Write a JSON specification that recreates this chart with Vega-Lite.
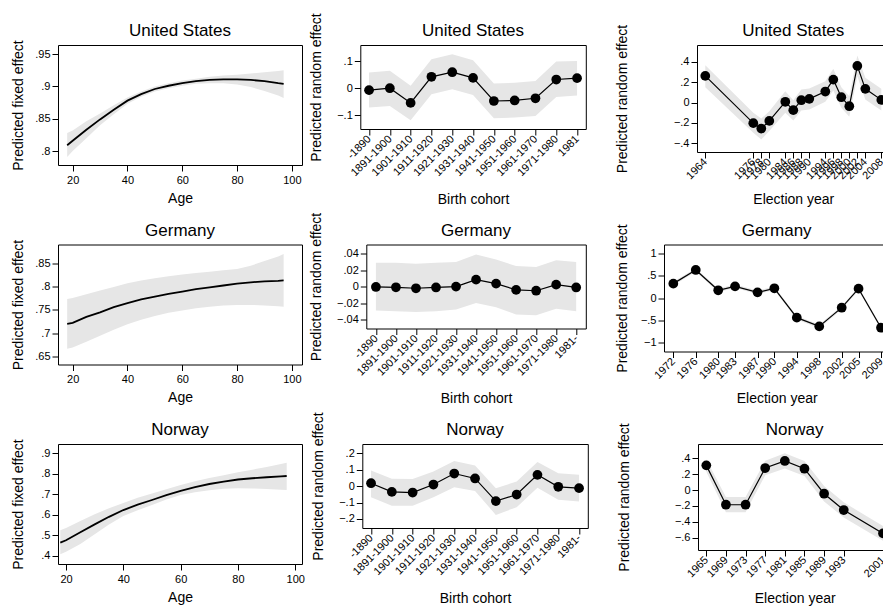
{
  "$schema": "https://vega.github.io/schema/vega-lite/v6.json",
  "padding": {"left": 11, "top": 12, "right": 0, "bottom": 0},
  "autosize": {"type": "pad"},
  "datasets": {
    "fixed": [
      {"c": "United States", "age": 18, "fit": 0.809, "lo": 0.791, "hi": 0.828},
      {"c": "United States", "age": 20, "fit": 0.816, "lo": 0.800, "hi": 0.832},
      {"c": "United States", "age": 25, "fit": 0.833, "lo": 0.820, "hi": 0.846},
      {"c": "United States", "age": 30, "fit": 0.849, "lo": 0.840, "hi": 0.858},
      {"c": "United States", "age": 35, "fit": 0.864, "lo": 0.857, "hi": 0.871},
      {"c": "United States", "age": 40, "fit": 0.878, "lo": 0.873, "hi": 0.883},
      {"c": "United States", "age": 45, "fit": 0.888, "lo": 0.884, "hi": 0.892},
      {"c": "United States", "age": 50, "fit": 0.896, "lo": 0.892, "hi": 0.900},
      {"c": "United States", "age": 55, "fit": 0.901, "lo": 0.897, "hi": 0.905},
      {"c": "United States", "age": 60, "fit": 0.905, "lo": 0.901, "hi": 0.909},
      {"c": "United States", "age": 65, "fit": 0.908, "lo": 0.904, "hi": 0.912},
      {"c": "United States", "age": 70, "fit": 0.910, "lo": 0.905, "hi": 0.915},
      {"c": "United States", "age": 75, "fit": 0.911, "lo": 0.905, "hi": 0.917},
      {"c": "United States", "age": 80, "fit": 0.911, "lo": 0.903, "hi": 0.918},
      {"c": "United States", "age": 85, "fit": 0.910, "lo": 0.899, "hi": 0.920},
      {"c": "United States", "age": 90, "fit": 0.908, "lo": 0.893, "hi": 0.922},
      {"c": "United States", "age": 95, "fit": 0.905, "lo": 0.886, "hi": 0.924},
      {"c": "United States", "age": 97, "fit": 0.904, "lo": 0.882, "hi": 0.925},
      {"c": "Germany", "age": 18, "fit": 0.720, "lo": 0.666, "hi": 0.774},
      {"c": "Germany", "age": 20, "fit": 0.722, "lo": 0.669, "hi": 0.776},
      {"c": "Germany", "age": 25, "fit": 0.735, "lo": 0.681, "hi": 0.784},
      {"c": "Germany", "age": 30, "fit": 0.745, "lo": 0.694, "hi": 0.792},
      {"c": "Germany", "age": 35, "fit": 0.756, "lo": 0.707, "hi": 0.800},
      {"c": "Germany", "age": 40, "fit": 0.765, "lo": 0.719, "hi": 0.808},
      {"c": "Germany", "age": 45, "fit": 0.773, "lo": 0.729, "hi": 0.814},
      {"c": "Germany", "age": 50, "fit": 0.779, "lo": 0.737, "hi": 0.819},
      {"c": "Germany", "age": 55, "fit": 0.785, "lo": 0.744, "hi": 0.823},
      {"c": "Germany", "age": 60, "fit": 0.790, "lo": 0.749, "hi": 0.827},
      {"c": "Germany", "age": 65, "fit": 0.795, "lo": 0.754, "hi": 0.830},
      {"c": "Germany", "age": 70, "fit": 0.799, "lo": 0.757, "hi": 0.833},
      {"c": "Germany", "age": 75, "fit": 0.803, "lo": 0.760, "hi": 0.836},
      {"c": "Germany", "age": 80, "fit": 0.807, "lo": 0.761, "hi": 0.839},
      {"c": "Germany", "age": 85, "fit": 0.810, "lo": 0.761, "hi": 0.846},
      {"c": "Germany", "age": 90, "fit": 0.812, "lo": 0.760, "hi": 0.856},
      {"c": "Germany", "age": 95, "fit": 0.813, "lo": 0.758, "hi": 0.866},
      {"c": "Germany", "age": 97, "fit": 0.814, "lo": 0.757, "hi": 0.871},
      {"c": "Norway", "age": 18, "fit": 0.464, "lo": 0.408, "hi": 0.525},
      {"c": "Norway", "age": 20, "fit": 0.476, "lo": 0.420, "hi": 0.535},
      {"c": "Norway", "age": 25, "fit": 0.515, "lo": 0.458, "hi": 0.570},
      {"c": "Norway", "age": 30, "fit": 0.553, "lo": 0.505, "hi": 0.602},
      {"c": "Norway", "age": 35, "fit": 0.590, "lo": 0.552, "hi": 0.632},
      {"c": "Norway", "age": 40, "fit": 0.623, "lo": 0.594, "hi": 0.657},
      {"c": "Norway", "age": 45, "fit": 0.649, "lo": 0.622, "hi": 0.683},
      {"c": "Norway", "age": 50, "fit": 0.672, "lo": 0.648, "hi": 0.704},
      {"c": "Norway", "age": 55, "fit": 0.696, "lo": 0.675, "hi": 0.725},
      {"c": "Norway", "age": 60, "fit": 0.717, "lo": 0.696, "hi": 0.745},
      {"c": "Norway", "age": 65, "fit": 0.735, "lo": 0.710, "hi": 0.763},
      {"c": "Norway", "age": 70, "fit": 0.750, "lo": 0.720, "hi": 0.779},
      {"c": "Norway", "age": 75, "fit": 0.762, "lo": 0.727, "hi": 0.793},
      {"c": "Norway", "age": 80, "fit": 0.772, "lo": 0.729, "hi": 0.807},
      {"c": "Norway", "age": 85, "fit": 0.778, "lo": 0.728, "hi": 0.820},
      {"c": "Norway", "age": 90, "fit": 0.783, "lo": 0.726, "hi": 0.833},
      {"c": "Norway", "age": 95, "fit": 0.787, "lo": 0.722, "hi": 0.847},
      {"c": "Norway", "age": 97, "fit": 0.789, "lo": 0.721, "hi": 0.853}
    ],
    "cohort": [
      {"c": "United States", "cohort": "-1890", "est": -0.007, "lo": -0.071, "hi": 0.058},
      {"c": "United States", "cohort": "1891-1900", "est": 0.000, "lo": -0.065, "hi": 0.064},
      {"c": "United States", "cohort": "1901-1910", "est": -0.054, "lo": -0.118, "hi": 0.009},
      {"c": "United States", "cohort": "1911-1920", "est": 0.042, "lo": -0.022, "hi": 0.107},
      {"c": "United States", "cohort": "1921-1930", "est": 0.059, "lo": -0.004, "hi": 0.125},
      {"c": "United States", "cohort": "1931-1940", "est": 0.038, "lo": -0.025, "hi": 0.103},
      {"c": "United States", "cohort": "1941-1950", "est": -0.047, "lo": -0.110, "hi": 0.017},
      {"c": "United States", "cohort": "1951-1960", "est": -0.045, "lo": -0.108, "hi": 0.020},
      {"c": "United States", "cohort": "1961-1970", "est": -0.037, "lo": -0.102, "hi": 0.027},
      {"c": "United States", "cohort": "1971-1980", "est": 0.032, "lo": -0.032, "hi": 0.098},
      {"c": "United States", "cohort": "1981", "est": 0.037, "lo": -0.027, "hi": 0.100},
      {"c": "Germany", "cohort": "-1890", "est": -0.0004, "lo": -0.029, "hi": 0.029},
      {"c": "Germany", "cohort": "1891-1900", "est": -0.0008, "lo": -0.030, "hi": 0.029},
      {"c": "Germany", "cohort": "1901-1910", "est": -0.002, "lo": -0.031, "hi": 0.028},
      {"c": "Germany", "cohort": "1911-1920", "est": -0.001, "lo": -0.030, "hi": 0.029},
      {"c": "Germany", "cohort": "1921-1930", "est": 0.000, "lo": -0.028, "hi": 0.030},
      {"c": "Germany", "cohort": "1931-1940", "est": 0.0085, "lo": -0.020, "hi": 0.039},
      {"c": "Germany", "cohort": "1941-1950", "est": 0.0037, "lo": -0.025, "hi": 0.033},
      {"c": "Germany", "cohort": "1951-1960", "est": -0.004, "lo": -0.034, "hi": 0.025},
      {"c": "Germany", "cohort": "1961-1970", "est": -0.005, "lo": -0.035, "hi": 0.024},
      {"c": "Germany", "cohort": "1971-1980", "est": 0.0024, "lo": -0.027, "hi": 0.032},
      {"c": "Germany", "cohort": "1981-", "est": -0.001, "lo": -0.030, "hi": 0.030},
      {"c": "Norway", "cohort": "-1890", "est": 0.018, "lo": -0.067, "hi": 0.095},
      {"c": "Norway", "cohort": "1891-1900", "est": -0.035, "lo": -0.120, "hi": 0.045},
      {"c": "Norway", "cohort": "1901-1910", "est": -0.039, "lo": -0.120, "hi": 0.043},
      {"c": "Norway", "cohort": "1911-1920", "est": 0.010, "lo": -0.067, "hi": 0.089},
      {"c": "Norway", "cohort": "1921-1930", "est": 0.077, "lo": -0.006, "hi": 0.154},
      {"c": "Norway", "cohort": "1931-1940", "est": 0.047, "lo": -0.030, "hi": 0.126},
      {"c": "Norway", "cohort": "1941-1950", "est": -0.091, "lo": -0.175, "hi": -0.012},
      {"c": "Norway", "cohort": "1951-1960", "est": -0.051, "lo": -0.128, "hi": 0.028},
      {"c": "Norway", "cohort": "1961-1970", "est": 0.069, "lo": -0.010, "hi": 0.148},
      {"c": "Norway", "cohort": "1971-1980", "est": -0.004, "lo": -0.083, "hi": 0.079},
      {"c": "Norway", "cohort": "1981-", "est": -0.012, "lo": -0.093, "hi": 0.069}
    ],
    "election": [
      {"c": "United States", "year": 1964, "est": 0.261, "lo": 0.150, "hi": 0.366},
      {"c": "United States", "year": 1976, "est": -0.202, "lo": -0.297, "hi": -0.100},
      {"c": "United States", "year": 1978, "est": -0.255, "lo": -0.362, "hi": -0.157},
      {"c": "United States", "year": 1980, "est": -0.180, "lo": -0.280, "hi": -0.085},
      {"c": "United States", "year": 1984, "est": 0.007, "lo": -0.100, "hi": 0.111},
      {"c": "United States", "year": 1986, "est": -0.075, "lo": -0.176, "hi": 0.023},
      {"c": "United States", "year": 1988, "est": 0.023, "lo": -0.078, "hi": 0.127},
      {"c": "United States", "year": 1990, "est": 0.036, "lo": -0.068, "hi": 0.137},
      {"c": "United States", "year": 1994, "est": 0.108, "lo": 0.007, "hi": 0.209},
      {"c": "United States", "year": 1996, "est": 0.225, "lo": 0.118, "hi": 0.330},
      {"c": "United States", "year": 1998, "est": 0.052, "lo": -0.052, "hi": 0.150},
      {"c": "United States", "year": 2000, "est": -0.036, "lo": -0.140, "hi": 0.062},
      {"c": "United States", "year": 2002, "est": 0.359, "lo": 0.258, "hi": 0.460},
      {"c": "United States", "year": 2004, "est": 0.134, "lo": 0.029, "hi": 0.242},
      {"c": "United States", "year": 2008, "est": 0.026, "lo": -0.078, "hi": 0.134},
      {"c": "Germany", "year": 1972, "est": 0.325, "lo": 0.285, "hi": 0.365},
      {"c": "Germany", "year": 1976, "est": 0.634, "lo": 0.594, "hi": 0.674},
      {"c": "Germany", "year": 1980, "est": 0.174, "lo": 0.134, "hi": 0.214},
      {"c": "Germany", "year": 1983, "est": 0.264, "lo": 0.224, "hi": 0.304},
      {"c": "Germany", "year": 1987, "est": 0.128, "lo": 0.088, "hi": 0.168},
      {"c": "Germany", "year": 1990, "est": 0.219, "lo": 0.179, "hi": 0.259},
      {"c": "Germany", "year": 1994, "est": -0.445, "lo": -0.485, "hi": -0.405},
      {"c": "Germany", "year": 1998, "est": -0.642, "lo": -0.682, "hi": -0.602},
      {"c": "Germany", "year": 2002, "est": -0.219, "lo": -0.259, "hi": -0.179},
      {"c": "Germany", "year": 2005, "est": 0.211, "lo": 0.171, "hi": 0.251},
      {"c": "Germany", "year": 2009, "est": -0.672, "lo": -0.712, "hi": -0.632},
      {"c": "Norway", "year": 1965, "est": 0.311, "lo": 0.231, "hi": 0.387},
      {"c": "Norway", "year": 1969, "est": -0.185, "lo": -0.280, "hi": -0.088},
      {"c": "Norway", "year": 1973, "est": -0.185, "lo": -0.280, "hi": -0.088},
      {"c": "Norway", "year": 1977, "est": 0.277, "lo": 0.185, "hi": 0.370},
      {"c": "Norway", "year": 1981, "est": 0.366, "lo": 0.273, "hi": 0.462},
      {"c": "Norway", "year": 1985, "est": 0.269, "lo": 0.176, "hi": 0.366},
      {"c": "Norway", "year": 1989, "est": -0.046, "lo": -0.143, "hi": 0.050},
      {"c": "Norway", "year": 1993, "est": -0.252, "lo": -0.345, "hi": -0.155},
      {"c": "Norway", "year": 2001, "est": -0.546, "lo": -0.639, "hi": -0.454}
    ]
  },
  "spacing": 4.5,
  "align": "none",
  "vconcat": [
    {
      "spacing": 27,
      "hconcat": [
        {
          "spacing": 5.3,
          "hconcat": [
            {
              "title": {"text": "United States", "offset": -0.4}, "width": 244, "height": 120,
              "data": {"name": "fixed"},
              "transform": [{"filter": "datum.c === 'United States'"}],
              "encoding": {
                "x": {"field": "age", "type": "quantitative", "title": "Age", "scale": {"domain": [14.65, 103.7], "nice": false, "zero": false}, "axis": {"values": [20, 40, 60, 80, 100], "tickCount": 30, "titlePadding": 6, "labelOverlap": false}}
              },
              "layer": [
                {"mark": {"type": "area", "color": "#e6e6e6"}, "encoding": {"y": {"field": "lo", "type": "quantitative", "title": "Predicted fixed effect", "scale": {"domain": [0.7785, 0.964], "nice": false, "zero": false}, "axis": {"values": [0.8, 0.85, 0.9, 0.95], "tickCount": 30, "titlePadding": 12.2, "labelOverlap": false}}, "y2": {"field": "hi"}}},
                {"mark": {"type": "line", "color": "black", "strokeWidth": 1.8}, "encoding": {"y": {"field": "fit", "type": "quantitative", "title": "Predicted fixed effect"}}}
              ]
            },
            {
              "title": {"text": "United States", "offset": -27.3}, "width": 225.5, "height": 84,
              "data": {"name": "cohort"},
              "transform": [{"filter": "datum.c === 'United States'"}],
              "encoding": {
                "x": {"field": "cohort", "type": "ordinal", "sort": null, "title": "Birth cohort", "scale": {"type": "point", "padding": 0.42}, "axis": {"labelAngle": -45, "labelAlign": "right", "labelBaseline": "middle", "labelPadding": 2, "titlePadding": 43, "labelOverlap": false}}
              },
              "layer": [
                {"mark": {"type": "area", "color": "#e6e6e6"}, "encoding": {"y": {"field": "lo", "type": "quantitative", "title": "Predicted random effect", "scale": {"domain": [-0.150, 0.159], "nice": false, "zero": false}, "axis": {"values": [-0.1, 0, 0.1], "tickCount": 30, "titlePadding": 17, "labelOverlap": false}}, "y2": {"field": "hi"}}},
                {"mark": {"type": "line", "color": "black", "strokeWidth": 1.2}, "encoding": {"y": {"field": "est", "type": "quantitative", "title": "Predicted random effect"}}},
                {"mark": {"type": "point", "filled": true, "color": "black", "opacity": 1, "size": 95}, "encoding": {"y": {"field": "est", "type": "quantitative", "title": "Predicted random effect"}}}
              ]
            }
          ]
        },
        {
          "title": {"text": "United States", "offset": -15.8}, "width": 192.6, "height": 107,
          "data": {"name": "election"},
          "transform": [{"filter": "datum.c === 'United States'"}],
          "encoding": {
            "x": {"field": "year", "type": "quantitative", "title": "Election year", "scale": {"domain": [1961.93, 2010.07], "nice": false, "zero": false}, "axis": {"values": [1964, 1976, 1978, 1980, 1984, 1986, 1988, 1990, 1994, 1996, 1998, 2000, 2002, 2004, 2008], "tickCount": 30, "format": "d", "labelAngle": -45, "labelAlign": "right", "labelBaseline": "middle", "labelPadding": 2, "titlePadding": 20, "labelOverlap": false}}
          },
          "layer": [
            {"mark": {"type": "area", "color": "#e6e6e6"}, "encoding": {"y": {"field": "lo", "type": "quantitative", "title": "Predicted random effect", "scale": {"domain": [-0.485, 0.564], "nice": false, "zero": false}, "axis": {"values": [-0.4, -0.2, 0, 0.2, 0.4], "tickCount": 30, "titlePadding": 48, "labelOverlap": false}}, "y2": {"field": "hi"}}},
            {"mark": {"type": "line", "color": "black", "strokeWidth": 1.2}, "encoding": {"y": {"field": "est", "type": "quantitative", "title": "Predicted random effect"}}},
            {"mark": {"type": "point", "filled": true, "color": "black", "opacity": 1, "size": 95}, "encoding": {"y": {"field": "est", "type": "quantitative", "title": "Predicted random effect"}}}
          ]
        }
      ]
    },
    {
      "spacing": 27,
      "hconcat": [
        {
          "spacing": 5.3,
          "hconcat": [
            {
              "title": {"text": "Germany", "offset": -0.4}, "width": 244, "height": 120,
              "data": {"name": "fixed"},
              "transform": [{"filter": "datum.c === 'Germany'"}],
              "encoding": {
                "x": {"field": "age", "type": "quantitative", "title": "Age", "scale": {"domain": [14.65, 103.7], "nice": false, "zero": false}, "axis": {"values": [20, 40, 60, 80, 100], "tickCount": 30, "titlePadding": 6, "labelOverlap": false}}
              },
              "layer": [
                {"mark": {"type": "area", "color": "#e6e6e6"}, "encoding": {"y": {"field": "lo", "type": "quantitative", "title": "Predicted fixed effect", "scale": {"domain": [0.632, 0.8918], "nice": false, "zero": false}, "axis": {"values": [0.65, 0.7, 0.75, 0.8, 0.85], "tickCount": 30, "titlePadding": 12.2, "labelOverlap": false}}, "y2": {"field": "hi"}}},
                {"mark": {"type": "line", "color": "black", "strokeWidth": 1.8}, "encoding": {"y": {"field": "fit", "type": "quantitative", "title": "Predicted fixed effect"}}}
              ]
            },
            {
              "title": {"text": "Germany", "offset": -27.3}, "width": 219.5, "height": 84,
              "data": {"name": "cohort"},
              "transform": [{"filter": "datum.c === 'Germany'"}],
              "encoding": {
                "x": {"field": "cohort", "type": "ordinal", "sort": null, "title": "Birth cohort", "scale": {"type": "point", "padding": 0.48}, "axis": {"labelAngle": -45, "labelAlign": "right", "labelBaseline": "middle", "labelPadding": 2, "titlePadding": 43, "labelOverlap": false}}
              },
              "layer": [
                {"mark": {"type": "area", "color": "#e6e6e6"}, "encoding": {"y": {"field": "lo", "type": "quantitative", "title": "Predicted random effect", "scale": {"domain": [-0.051, 0.0513], "nice": false, "zero": false}, "axis": {"values": [-0.04, -0.02, 0, 0.02, 0.04], "tickCount": 30, "titlePadding": 23, "labelOverlap": false}}, "y2": {"field": "hi"}}},
                {"mark": {"type": "line", "color": "black", "strokeWidth": 1.2}, "encoding": {"y": {"field": "est", "type": "quantitative", "title": "Predicted random effect"}}},
                {"mark": {"type": "point", "filled": true, "color": "black", "opacity": 1, "size": 95}, "encoding": {"y": {"field": "est", "type": "quantitative", "title": "Predicted random effect"}}}
              ]
            }
          ]
        },
        {
          "title": {"text": "Germany", "offset": -15.8}, "width": 225.3, "height": 107,
          "data": {"name": "election"},
          "transform": [{"filter": "datum.c === 'Germany'"}],
          "encoding": {
            "x": {"field": "year", "type": "quantitative", "title": "Election year", "scale": {"domain": [1970.34, 2010.48], "nice": false, "zero": false}, "axis": {"values": [1972, 1976, 1980, 1983, 1987, 1990, 1994, 1998, 2002, 2005, 2009], "tickCount": 30, "format": "d", "labelAngle": -45, "labelAlign": "right", "labelBaseline": "middle", "labelPadding": 2, "titlePadding": 20, "labelOverlap": false}}
          },
          "layer": [
            {"mark": {"type": "area", "color": "#e6e6e6"}, "encoding": {"y": {"field": "lo", "type": "quantitative", "title": "Predicted random effect", "scale": {"domain": [-1.21, 1.21], "nice": false, "zero": false}, "axis": {"values": [-1, -0.5, 0, 0.5, 1], "tickCount": 30, "titlePadding": 15, "labelOverlap": false}}, "y2": {"field": "hi"}}},
            {"mark": {"type": "line", "color": "black", "strokeWidth": 1.2}, "encoding": {"y": {"field": "est", "type": "quantitative", "title": "Predicted random effect"}}},
            {"mark": {"type": "point", "filled": true, "color": "black", "opacity": 1, "size": 95}, "encoding": {"y": {"field": "est", "type": "quantitative", "title": "Predicted random effect"}}}
          ]
        }
      ]
    },
    {
      "spacing": 27,
      "hconcat": [
        {
          "spacing": 5.3,
          "hconcat": [
            {
              "title": {"text": "Norway", "offset": -0.4}, "width": 244, "height": 120,
              "data": {"name": "fixed"},
              "transform": [{"filter": "datum.c === 'Norway'"}],
              "encoding": {
                "x": {"field": "age", "type": "quantitative", "title": "Age", "scale": {"domain": [17.2, 102.34], "nice": false, "zero": false}, "axis": {"values": [20, 40, 60, 80, 100], "tickCount": 30, "titlePadding": 6, "labelOverlap": false}}
              },
              "layer": [
                {"mark": {"type": "area", "color": "#e6e6e6"}, "encoding": {"y": {"field": "lo", "type": "quantitative", "title": "Predicted fixed effect", "scale": {"domain": [0.36, 0.945], "nice": false, "zero": false}, "axis": {"values": [0.4, 0.5, 0.6, 0.7, 0.8, 0.9], "tickCount": 30, "titlePadding": 12.2, "labelOverlap": false}}, "y2": {"field": "hi"}}},
                {"mark": {"type": "line", "color": "black", "strokeWidth": 1.8}, "encoding": {"y": {"field": "fit", "type": "quantitative", "title": "Predicted fixed effect"}}}
              ]
            },
            {
              "title": {"text": "Norway", "offset": -27.3}, "width": 225.5, "height": 84,
              "data": {"name": "cohort"},
              "transform": [{"filter": "datum.c === 'Norway'"}],
              "encoding": {
                "x": {"field": "cohort", "type": "ordinal", "sort": null, "title": "Birth cohort", "scale": {"type": "point", "padding": 0.42}, "axis": {"labelAngle": -45, "labelAlign": "right", "labelBaseline": "middle", "labelPadding": 2, "titlePadding": 43, "labelOverlap": false}}
              },
              "layer": [
                {"mark": {"type": "area", "color": "#e6e6e6"}, "encoding": {"y": {"field": "lo", "type": "quantitative", "title": "Predicted random effect", "scale": {"domain": [-0.255, 0.257], "nice": false, "zero": false}, "axis": {"values": [-0.2, -0.1, 0, 0.1, 0.2], "tickCount": 30, "titlePadding": 17, "labelOverlap": false}}, "y2": {"field": "hi"}}},
                {"mark": {"type": "line", "color": "black", "strokeWidth": 1.2}, "encoding": {"y": {"field": "est", "type": "quantitative", "title": "Predicted random effect"}}},
                {"mark": {"type": "point", "filled": true, "color": "black", "opacity": 1, "size": 95}, "encoding": {"y": {"field": "est", "type": "quantitative", "title": "Predicted random effect"}}}
              ]
            }
          ]
        },
        {
          "title": {"text": "Norway", "offset": -16.3}, "width": 193.3, "height": 106,
          "data": {"name": "election"},
          "transform": [{"filter": "datum.c === 'Norway'"}],
          "encoding": {
            "x": {"field": "year", "type": "quantitative", "title": "Election year", "scale": {"domain": [1963.31, 2002.69], "nice": false, "zero": false}, "axis": {"values": [1965, 1969, 1973, 1977, 1981, 1985, 1989, 1993, 2001], "tickCount": 30, "format": "d", "labelAngle": -45, "labelAlign": "right", "labelBaseline": "middle", "labelPadding": 2, "titlePadding": 21, "labelOverlap": false}}
          },
          "layer": [
            {"mark": {"type": "area", "color": "#e6e6e6"}, "encoding": {"y": {"field": "lo", "type": "quantitative", "title": "Predicted random effect", "scale": {"domain": [-0.755, 0.58], "nice": false, "zero": false}, "axis": {"values": [-0.6, -0.4, -0.2, 0, 0.2, 0.4], "tickCount": 30, "titlePadding": 47, "labelOverlap": false}}, "y2": {"field": "hi"}}},
            {"mark": {"type": "line", "color": "black", "strokeWidth": 1.2}, "encoding": {"y": {"field": "est", "type": "quantitative", "title": "Predicted random effect"}}},
            {"mark": {"type": "point", "filled": true, "color": "black", "opacity": 1, "size": 95}, "encoding": {"y": {"field": "est", "type": "quantitative", "title": "Predicted random effect"}}}
          ]
        }
      ]
    }
  ],
  "config": {
    "font": "Liberation Sans",
    "view": {"stroke": "black", "strokeWidth": 1},
    "axis": {"grid": false, "domain": false, "tickColor": "black", "tickSize": 6, "labelColor": "black", "labelFontSize": 11, "titleFontSize": 14, "titleFontWeight": "normal", "titleColor": "black", "labelFlush": false, "labelOverlap": false, "minExtent": 20, "maxExtent": 20},
    "axisY": {"labelPadding": 2, "labelOverlap": false, "labelExpr": "replace(format(datum.value, '~g'), '0.', '.')"},
    "axisX": {"labelPadding": 3, "labelOverlap": false},
    "title": {"fontSize": 17, "fontWeight": "normal", "color": "black", "offset": 4}
  }
}
